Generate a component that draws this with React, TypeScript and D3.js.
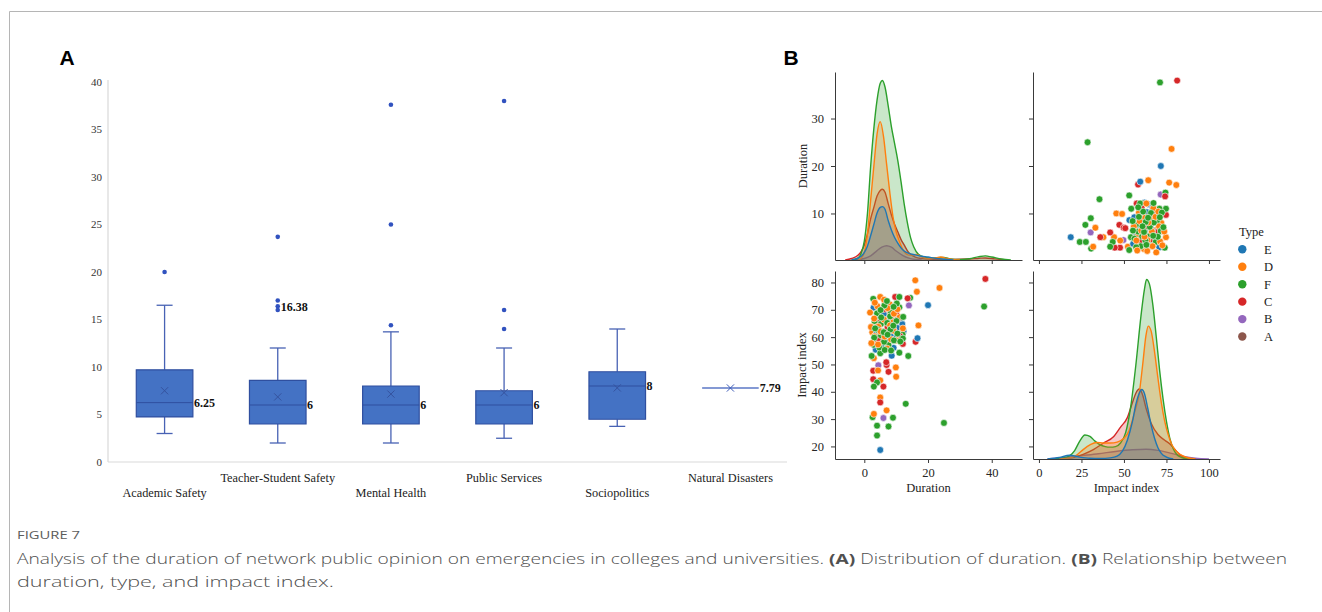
import React, { useEffect, useRef } from "react";
import * as d3 from "d3";

const WIDTH = 1322;
const HEIGHT = 612;
const SERIF = "'Liberation Serif', 'Times New Roman', serif";
const SANS = "'Liberation Sans', Arial, sans-serif";
const CAPTION_FONT = "'Open Sans', 'Noto Sans', sans-serif";

// ---- panel A: duration by category (box plot) ----
const CATEGORIES = [
  "Academic Safety",
  "Teacher-Student Safety",
  "Mental Health",
  "Public Services",
  "Sociopolitics",
  "Natural Disasters"
];
const Q1 = [4.75, 4, 4, 4, 4.5, 7.79];
const MEDIANS = [6.25, 6, 6, 6, 8, 7.79];
const Q3 = [9.7, 8.6, 8, 7.5, 9.5, 7.79];
const WHISKER_LOW = [3, 2, 2, 2.5, 3.75, 7.79];
const WHISKER_HIGH = [16.5, 12, 13.7, 12, 14, 7.79];
const MEANS = [7.5, 6.85, 7.15, 7.3, 7.8, 7.79];
const OUTLIERS = [[20], [16, 16.4, 17, 23.7], [14.4, 25, 37.6], [14, 16, 38], [], []];
const VALUE_LABELS = ["6.25", "6", "6", "6", "8", "7.79"];
const EXTRA_LABEL_CATEGORY = 1;
const EXTRA_LABEL_VALUE = 16.38;
const A_TICKS = [0, 5, 10, 15, 20, 25, 30, 35, 40];

// ---- panel B: pair plot, points are [duration, impact index] ----
const TYPES = ["E", "D", "F", "C", "B", "A"];
const TYPE_COLORS = ["#1f77b4", "#ff7f0e", "#2ca02c", "#d62728", "#9467bd", "#8c564b"];

const POINTS_E = [
  [20, 71.7], [16.7, 59.6], [11.9, 64.8], [8.6, 53.2], [5, 18.7], [9.5, 60.4], [2.9, 70.8],
  [4.2, 66.3], [6.3, 62.2], [7.4, 58.3], [8.2, 60.7], [10.3, 63.4], [5.4, 57.2], [6.1, 68.4],
  [9.2, 56.1], [11.3, 66.9], [7.1, 65.6], [3.8, 61.2], [12.3, 62.1], [3.6, 55.4]
];
const POINTS_D = [
  [23.6, 78], [17, 64.3], [16.5, 76.6], [16, 80.8], [7, 33.2], [5, 37.9], [10, 45.5],
  [9.9, 48.9], [5, 44.2], [3, 31.9], [3, 52.3], [5, 74.7], [1.8, 69], [6.5, 68.8], [8, 72],
  [9, 65.4], [7.2, 63], [2.5, 61.8], [4.3, 47.8], [3.2, 60.3], [4.4, 63.8], [5.3, 58.2],
  [6.2, 66.4], [7.3, 70.6], [8.4, 59.2], [9.1, 62.4], [10.2, 58.8], [11.1, 67.3], [2.1, 63.7],
  [3.1, 66.8], [4.1, 71.3], [6.4, 60.2], [8.1, 64.3], [9.3, 68.6], [10.4, 70.2], [5.1, 62.1],
  [7.2, 55.8], [4.3, 57.3], [12.1, 63.2], [3.3, 72.6], [6.2, 73.7], [2.2, 57.8]
];
const POINTS_F = [
  [37.6, 71.2], [25, 28.6], [14.4, 74.4], [13, 35.6], [13.8, 53.1], [9, 30.5], [7.6, 27.3],
  [4, 24], [4, 27.6], [2.6, 30.7], [4, 43.4], [3, 41.9], [2.8, 74], [11, 74.7], [11, 70.9],
  [4, 68.7], [8.3, 69.3], [5.2, 64.8], [3.2, 65.9], [12, 61], [7.6, 57.1], [5, 54.1],
  [11, 54.3], [2.3, 53.1], [12.1, 59.5], [3.1, 59.8], [4.3, 62.6], [5.2, 60.7], [6.2, 58.3],
  [7.2, 65.2], [8.1, 67.6], [9.3, 58.8], [10.1, 65.9], [4.7, 56.2], [6.3, 71.6], [8.2, 62.8],
  [10.2, 72.3], [2.9, 57.2], [5.1, 69.9], [6.1, 61.8], [7.3, 60.9], [9.1, 64.2], [10.4, 61.3],
  [11.3, 58.4], [6.4, 55.3], [8.4, 55.1], [3.4, 63.2], [7.1, 73.2], [9.2, 71.1], [5.3, 67.2],
  [12.2, 67.4]
];
const POINTS_C = [
  [38, 81.3], [16.1, 58.3], [12.1, 57.5], [9.7, 74.7], [7.6, 47.3], [7, 49.8], [6.9, 50.8],
  [2.8, 47.7], [2.8, 44.6], [6, 41.9], [5, 36.1], [6.8, 61.6], [4.2, 65.3], [5.3, 60.2],
  [8.3, 66.7], [9.2, 62.6], [6.2, 70.3], [3.2, 58.6], [10.1, 68.2], [7.3, 63.7], [11.2, 60.4],
  [4.3, 59.6], [13.6, 74.2]
];
const POINTS_B = [[14, 71.6], [6, 30.4], [4.4, 49.7], [3.9, 59.2]];
const POINTS_A = [[8.2, 60.7]];

// kernel density curves: [value, relative density]
const KDE_DUR_E = [
  [-4, 0], [-2, 0.01], [-1, 0.02], [0, 0.04], [1, 0.075], [2, 0.13], [3, 0.19], [4, 0.25],
  [5, 0.28], [5.7, 0.284], [6.5, 0.27], [7.5, 0.21], [8.5, 0.16], [9.5, 0.12], [10.5, 0.09],
  [11.5, 0.065], [12.5, 0.048], [14, 0.035], [16, 0.027], [18, 0.02], [20, 0.016], [22, 0.01],
  [25, 0.004], [28, 0]
];
const KDE_DUR_D = [
  [-2, 0], [-1, 0.01], [0, 0.04], [1, 0.14], [2, 0.32], [3, 0.5], [4, 0.67], [5, 0.736],
  [6, 0.66], [7, 0.51], [8, 0.36], [9, 0.23], [10, 0.15], [11, 0.1], [12, 0.06], [13, 0.035],
  [14, 0.026], [15, 0.026], [16.5, 0.03], [18, 0.016], [20, 0.007], [22, 0.01], [24, 0.016],
  [26, 0.008], [28, 0.002], [30, 0]
];
const KDE_DUR_F = [
  [-4, 0], [-2, 0.01], [-1, 0.035], [0, 0.1], [1, 0.25], [2, 0.5], [3, 0.7], [4, 0.85],
  [5, 0.94], [5.7, 0.955], [6.5, 0.92], [7.5, 0.82], [8.5, 0.71], [9.5, 0.62], [10.5, 0.53],
  [11.5, 0.42], [12.5, 0.3], [13.5, 0.2], [14.5, 0.12], [15.5, 0.07], [17, 0.03], [19, 0.015],
  [21, 0.01], [23, 0.012], [25, 0.013], [27, 0.006], [30, 0.003], [33, 0.007], [36, 0.018],
  [38, 0.022], [40, 0.016], [43, 0.005], [46, 0]
];
const KDE_DUR_C = [
  [-6, 0], [-4, 0.008], [-2, 0.025], [-1, 0.045], [0, 0.08], [1, 0.14], [2, 0.22], [3, 0.28],
  [4, 0.34], [5, 0.37], [5.7, 0.376], [6.5, 0.36], [7.5, 0.3], [8.5, 0.24], [9.5, 0.19],
  [10.5, 0.15], [11.5, 0.11], [12.5, 0.08], [13.5, 0.05], [14.5, 0.03], [16, 0.015], [18, 0.008],
  [22, 0.004], [28, 0.003], [33, 0.005], [36, 0.009], [38, 0.011], [41, 0.006], [45, 0]
];
const KDE_DUR_B = [
  [-3, 0], [0, 0.008], [2, 0.022], [4, 0.05], [5.5, 0.068], [7, 0.076], [8.5, 0.068],
  [10, 0.048], [12, 0.025], [14, 0.01], [16, 0.003], [18, 0]
];

const KDE_IMP_E = [
  [5, 0], [12, 0.008], [18, 0.02], [24, 0.01], [30, 0.004], [36, 0.003], [42, 0.006],
  [46, 0.015], [49, 0.04], [52, 0.1], [55, 0.2], [57, 0.29], [59, 0.35], [60.5, 0.37],
  [62, 0.35], [64, 0.27], [66, 0.18], [68, 0.11], [70, 0.06], [72, 0.03], [75, 0.01], [79, 0]
];
const KDE_IMP_D = [
  [12, 0], [18, 0.005], [22, 0.02], [26, 0.05], [30, 0.075], [34, 0.088], [38, 0.085],
  [42, 0.085], [46, 0.09], [50, 0.11], [53, 0.15], [56, 0.24], [59, 0.35], [61, 0.5],
  [63, 0.66], [64.3, 0.707], [66, 0.68], [68, 0.57], [70, 0.43], [72, 0.3], [74, 0.2],
  [76, 0.13], [78, 0.08], [80, 0.05], [83, 0.025], [87, 0.008], [92, 0]
];
const KDE_IMP_F = [
  [8, 0], [14, 0.005], [18, 0.017], [21, 0.045], [24, 0.095], [27, 0.128], [30, 0.12],
  [33, 0.095], [36, 0.075], [39, 0.066], [42, 0.063], [45, 0.066], [48, 0.085], [51, 0.14],
  [54, 0.28], [57, 0.5], [60, 0.76], [62, 0.9], [63.3, 0.955], [65, 0.93], [67, 0.82],
  [69, 0.65], [71, 0.47], [73, 0.32], [75, 0.2], [77, 0.11], [79, 0.055], [81, 0.025],
  [84, 0.008], [88, 0]
];
const KDE_IMP_C = [
  [14, 0], [20, 0.008], [26, 0.025], [32, 0.05], [38, 0.085], [44, 0.12], [48, 0.17],
  [52, 0.22], [55, 0.3], [57, 0.35], [59, 0.372], [61, 0.34], [63, 0.27], [66, 0.19],
  [70, 0.13], [74, 0.1], [77, 0.08], [80, 0.05], [83, 0.022], [87, 0.006], [92, 0]
];
const KDE_IMP_B = [
  [5, 0], [15, 0.008], [25, 0.018], [35, 0.028], [45, 0.04], [55, 0.049], [63, 0.052],
  [70, 0.046], [78, 0.03], [85, 0.014], [92, 0.004], [100, 0]
];

const DUR_TICKS = [0, 20, 40];
const DUR_Y_TICKS = [10, 20, 30];
const IMP_X_TICKS = [0, 25, 50, 75, 100];
const IMP_Y_TICKS = [20, 30, 40, 50, 60, 70, 80];

// ---- scales ----
const xA = d3.scaleBand<string>().domain(CATEGORIES).range([108, 787]).padding(0);
const yA = d3.scaleLinear().domain([0, 40]).range([462, 82]);

const COL1 = [835, 1022];
const COL2 = [1033, 1220];
const ROW1 = [260, 72];
const ROW2 = [459, 271];

const durX = d3.scaleLinear().domain([-9.2, 49.5]).range(COL1);
const impX = d3.scaleLinear().domain([-3.5, 106.5]).range(COL2);
const durY = d3.scaleLinear().domain([0.2, 39.8]).range(ROW1);
const impY = d3.scaleLinear().domain([15.4, 84.2]).range(ROW2);
const densTop = d3.scaleLinear().domain([0, 1]).range(ROW1);
const densBottom = d3.scaleLinear().domain([0, 1]).range(ROW2);

const colorOf = d3.scaleOrdinal<string, string>().domain(TYPES).range(TYPE_COLORS);

type Axis = "left" | "bottom";

function PairAxis({ scale, orient, ticks, x, y, labels }: {
  scale: d3.ScaleLinear<number, number>; orient: Axis; ticks: number[]; x: number; y: number; labels: boolean;
}) {
  const ref = useRef<SVGGElement>(null);
  useEffect(() => {
    const gen = (orient === "left" ? d3.axisLeft(scale) : d3.axisBottom(scale))
      .tickValues(ticks)
      .tickSizeInner(4)
      .tickSizeOuter(0)
      .tickPadding(orient === "left" ? 7 : 5)
      .tickFormat(labels ? d3.format("d") : () => "");
    const g = d3.select(ref.current!);
    g.selectAll("*").remove();
    g.call(gen as any);
    g.attr("font-family", SERIF).attr("font-size", 12.5);
    g.selectAll("text").attr("fill", "#262626");
    g.selectAll(".tick line").attr("stroke", "#3a3a3a");
    g.select(".domain").attr("stroke", "#3a3a3a");
  }, [scale, orient, ticks, x, y, labels]);
  return <g ref={ref} transform={`translate(${x},${y})`} />;
}

function Density({ curves, xs, ys }: { curves: number[][][]; xs: d3.ScaleLinear<number, number>; ys: d3.ScaleLinear<number, number> }) {
  const area = d3.area<number[]>().x((d) => xs(d[0])).y0(ys(0)).y1((d) => ys(d[1])).curve(d3.curveMonotoneX);
  const line = d3.line<number[]>().x((d) => xs(d[0])).y((d) => ys(d[1])).curve(d3.curveMonotoneX);
  // seaborn layers the hues in reverse order: B, C, F, D, E
  const order = [4, 3, 2, 1, 0];
  return (
    <g>
      {order.map((i) => (
        <g key={i}>
          <path d={area(curves[i]) || ""} fill={TYPE_COLORS[i]} fillOpacity={0.25} />
          <path d={line(curves[i]) || ""} fill="none" stroke={TYPE_COLORS[i]} strokeWidth={1.4} />
        </g>
      ))}
    </g>
  );
}

function scatterOrder() {
  const groups = [["A", POINTS_A], ["F", POINTS_F], ["D", POINTS_D], ["C", POINTS_C], ["E", POINTS_E], ["B", POINTS_B]] as [string, number[][]][];
  const maxLen = d3.max(groups, (g) => g[1].length) || 0;
  const out: { type: string; d: number; imp: number }[] = [];
  for (let i = 0; i < maxLen; i++) {
    groups.forEach(([type, pts]) => {
      if (pts[i]) out.push({ type, d: pts[i][0], imp: pts[i][1] });
    });
  }
  return out;
}

export default function App() {
  const points = scatterOrder();
  const band = xA.bandwidth();
  const half = band * 0.25;
  const cap = 8;
  const durCurves = [KDE_DUR_E, KDE_DUR_D, KDE_DUR_F, KDE_DUR_C, KDE_DUR_B];
  const impCurves = [KDE_IMP_E, KDE_IMP_D, KDE_IMP_F, KDE_IMP_C, KDE_IMP_B];

  return (
    <div style={{ position: "absolute", left: 0, top: 0, width: WIDTH, height: HEIGHT, background: "#fff" }}>
      <svg width={WIDTH} height={HEIGHT} style={{ display: "block" }}>
        {/* frame */}
        <line x1={9.5} x2={WIDTH} y1={11.5} y2={11.5} stroke="#b5b5b5" />
        <line x1={9.5} x2={9.5} y1={11.5} y2={HEIGHT} stroke="#b5b5b5" />

        {/* panel A */}
        <text x={67} y={65} textAnchor="middle" fontFamily={SANS} fontWeight={700} fontSize={21}>A</text>
        <line x1={108} x2={108} y1={80} y2={yA(0)} stroke="#d9d9d9" strokeWidth={1.2} />
        <line x1={108} x2={787} y1={yA(0)} y2={yA(0)} stroke="#d9d9d9" strokeWidth={1.2} />
        {A_TICKS.map((t) => (
          <text key={t} x={102} y={yA(t)} dy="0.35em" textAnchor="end" fontFamily={SERIF} fontSize={11} fill="#333">{t}</text>
        ))}
        {CATEGORIES.map((c, i) => {
          const cx = (xA(c) || 0) + band / 2;
          const yq1 = yA(Q1[i]);
          const yq3 = yA(Q3[i]);
          const single = Q1[i] === Q3[i];
          return (
            <g key={c}>
              {!single && (
                <g stroke="#4862b4" strokeWidth={1.3}>
                  <line x1={cx} x2={cx} y1={yq3} y2={yA(WHISKER_HIGH[i])} />
                  <line x1={cx - cap} x2={cx + cap} y1={yA(WHISKER_HIGH[i])} y2={yA(WHISKER_HIGH[i])} />
                  <line x1={cx} x2={cx} y1={yq1} y2={yA(WHISKER_LOW[i])} />
                  <line x1={cx - cap} x2={cx + cap} y1={yA(WHISKER_LOW[i])} y2={yA(WHISKER_LOW[i])} />
                </g>
              )}
              <path
                d={`M${cx - half},${yq3}H${cx + half}V${yq1}H${cx - half}Z`}
                fill="#4472c4"
                stroke={single ? "#5c78c6" : "#2f4f9f"}
                strokeWidth={single ? 1.6 : 1.2}
              />
              {!single && (
                <line x1={cx - half} x2={cx + half} y1={yA(MEDIANS[i])} y2={yA(MEDIANS[i])} stroke="#2f4f9f" strokeWidth={1} />
              )}
              <g stroke={single ? "#3d5bb8" : "#35539f"} strokeWidth={1}>
                <line x1={cx - 3.6} x2={cx + 3.6} y1={yA(MEANS[i]) - 3.6} y2={yA(MEANS[i]) + 3.6} />
                <line x1={cx - 3.6} x2={cx + 3.6} y1={yA(MEANS[i]) + 3.6} y2={yA(MEANS[i]) - 3.6} />
              </g>
              {OUTLIERS[i].map((o) => (
                <circle key={o} cx={cx} cy={yA(o)} r={2.3} fill="#3152bf" />
              ))}
              <text x={cx + half + 1} y={yA(MEDIANS[i])} dy="0.35em" fontFamily={SERIF} fontWeight={700} fontSize={12} fill="#111">
                {VALUE_LABELS[i]}
              </text>
              {i === EXTRA_LABEL_CATEGORY && (
                <text x={cx + 3} y={yA(EXTRA_LABEL_VALUE)} dy="0.35em" fontFamily={SERIF} fontWeight={700} fontSize={12} fill="#111">
                  {EXTRA_LABEL_VALUE.toFixed(2)}
                </text>
              )}
              <text x={cx} y={i % 2 === 0 ? 497 : 482} textAnchor="middle" fontFamily={SERIF} fontSize={12.3} fill="#222">{c}</text>
            </g>
          );
        })}

        {/* panel B */}
        <text x={791} y={65} textAnchor="middle" fontFamily={SANS} fontWeight={700} fontSize={21}>B</text>

        <Density curves={durCurves} xs={durX} ys={densTop} />
        <Density curves={impCurves} xs={impX} ys={densBottom} />

        {points.map((p, i) => (
          <circle key={`tr${i}`} cx={impX(p.imp)} cy={durY(p.d)} r={3.4} fill={colorOf(p.type)} stroke="#fff" strokeWidth={0.6} />
        ))}
        {points.map((p, i) => (
          <circle key={`bl${i}`} cx={durX(p.d)} cy={impY(p.imp)} r={3.4} fill={colorOf(p.type)} stroke="#fff" strokeWidth={0.6} />
        ))}

        <PairAxis scale={durY} orient="left" ticks={DUR_Y_TICKS} x={COL1[0]} y={0} labels />
        <PairAxis scale={durX} orient="bottom" ticks={DUR_TICKS} x={0} y={ROW1[0]} labels={false} />
        <PairAxis scale={durY} orient="left" ticks={DUR_Y_TICKS} x={COL2[0]} y={0} labels={false} />
        <PairAxis scale={impX} orient="bottom" ticks={IMP_X_TICKS} x={0} y={ROW1[0]} labels={false} />
        <PairAxis scale={impY} orient="left" ticks={IMP_Y_TICKS} x={COL1[0]} y={0} labels />
        <PairAxis scale={durX} orient="bottom" ticks={DUR_TICKS} x={0} y={ROW2[0]} labels />
        <PairAxis scale={impY} orient="left" ticks={IMP_Y_TICKS} x={COL2[0]} y={0} labels={false} />
        <PairAxis scale={impX} orient="bottom" ticks={IMP_X_TICKS} x={0} y={ROW2[0]} labels />

        <text transform={`translate(803,${(ROW1[0] + ROW1[1]) / 2}) rotate(-90)`} textAnchor="middle" dy="0.35em" fontFamily={SERIF} fontSize={12.5} fill="#222">Duration</text>
        <text transform={`translate(802,${(ROW2[0] + ROW2[1]) / 2}) rotate(-90)`} textAnchor="middle" dy="0.35em" fontFamily={SERIF} fontSize={12.5} fill="#222">Impact index</text>
        <text x={(COL1[0] + COL1[1]) / 2} y={488} dy="0.35em" textAnchor="middle" fontFamily={SERIF} fontSize={12.5} fill="#222">Duration</text>
        <text x={(COL2[0] + COL2[1]) / 2} y={488} dy="0.35em" textAnchor="middle" fontFamily={SERIF} fontSize={12.5} fill="#222">Impact index</text>

        {/* legend */}
        <text x={1239} y={232} dy="0.35em" fontFamily={SERIF} fontSize={12.5} fill="#222">Type</text>
        {TYPES.map((t, i) => (
          <g key={t} transform={`translate(0,${249.3 + i * 17.45})`}>
            <circle cx={1242.3} cy={0} r={4.2} fill={colorOf(t)} />
            <text x={1264} y={0} dy="0.35em" fontFamily={SERIF} fontSize={12.5} fill="#222">{t}</text>
          </g>
        ))}

        {/* caption */}
        <text x={17} y={539} fontFamily={CAPTION_FONT} fontSize={11.5} fill="#5c5c5c" textLength={63} lengthAdjust="spacingAndGlyphs">FIGURE 7</text>
        <text x={17} y={564} fontFamily={CAPTION_FONT} fontSize={15} fontWeight={300} fill="#505050" textLength={1270} lengthAdjust="spacingAndGlyphs">
          Analysis of the duration of network public opinion on emergencies in colleges and universities. <tspan fontWeight={700}>(A)</tspan> Distribution of duration. <tspan fontWeight={700}>(B)</tspan> Relationship between
        </text>
        <text x={17} y={587} fontFamily={CAPTION_FONT} fontSize={15} fontWeight={300} fill="#505050" textLength={317} lengthAdjust="spacingAndGlyphs">
          duration, type, and impact index.
        </text>
      </svg>
    </div>
  );
}
